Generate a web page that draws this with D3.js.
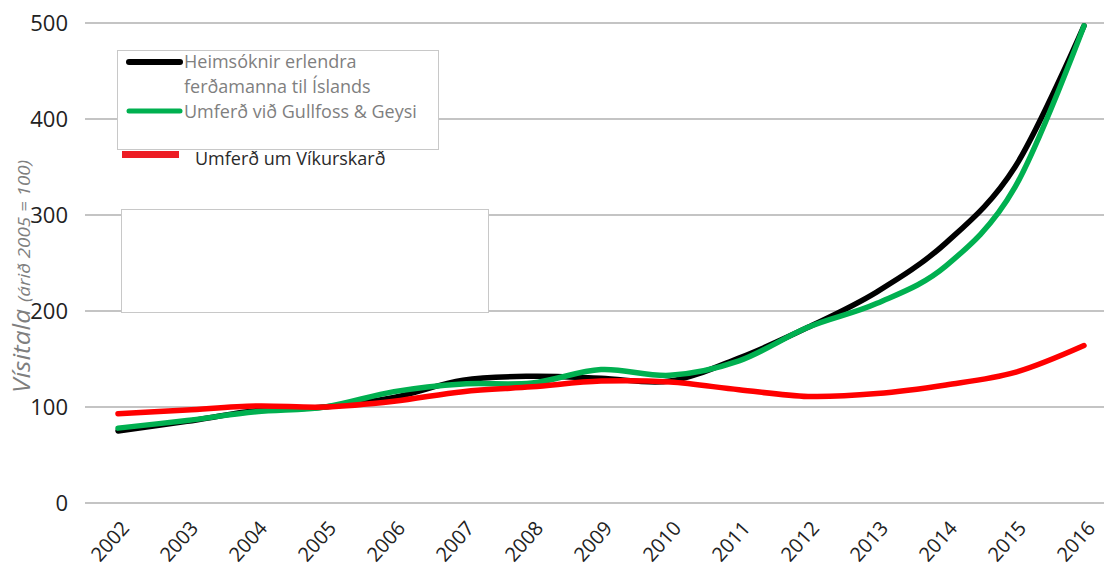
<!DOCTYPE html>
<html>
<head>
<meta charset="utf-8">
<script src="https://cdn.jsdelivr.net/npm/d3@7"></script>
<style>
  body { margin: 0; background: #fff; }
  svg { display: block; }
</style>
</head>
<body>
<div id="chart"></div>
<script>
const years = ["2002","2003","2004","2005","2006","2007","2008","2009","2010","2011","2012","2013","2014","2015","2016"];
const heimsoknir = [75, 85, 96, 100, 110, 128, 132, 130, 127, 151, 183, 220, 271, 350, 497];
const gullfoss = [78, 86, 95, 100, 116, 124, 125, 139, 133, 148, 183, 208, 247, 329, 497];
const vikurskard = [93, 97, 101, 100, 106, 116, 121, 127, 126, 118, 111, 114, 123, 136, 164];
const yTicks = [0, 100, 200, 300, 400, 500];

const width = 1104, height = 571;

const svg = d3.select("#chart").append("svg")
  .attr("width", width)
  .attr("height", height);

const x = d3.scalePoint().domain(years).range([118, 1084]);
const y = d3.scaleLinear().domain([0, 500]).range([503, 23]);

// gridlines
svg.append("g")
  .selectAll("line")
  .data(yTicks)
  .enter()
  .append("line")
  .attr("x1", 85).attr("x2", width)
  .attr("y1", d => y(d)).attr("y2", d => y(d))
  .style("stroke", "#c4c4c4")
  .style("stroke-width", 2);

// y axis labels
const yAxis = svg.append("g")
  .attr("transform", "translate(68,0)")
  .call(d3.axisLeft(y).tickValues(yTicks).tickSize(0).tickPadding(0));
yAxis.select(".domain").remove();
yAxis.selectAll("text")
  .style("font-family", "'Open Sans', sans-serif")
  .style("font-size", "22px")
  .style("fill", "#222");

// y axis title, two parts rotated
const yTitle = svg.append("g")
  .attr("transform", "translate(30,0) rotate(-90)")
  .style("font-family", "'Open Sans', sans-serif")
  .style("font-style", "italic")
  .style("fill", "#7f7f7f");
yTitle.append("text")
  .attr("x", -393).attr("y", 0)
  .attr("textLength", 84).attr("lengthAdjust", "spacingAndGlyphs")
  .style("font-size", "23px")
  .text("Vísitala");
yTitle.append("text")
  .attr("x", -302).attr("y", 0)
  .attr("textLength", 142).attr("lengthAdjust", "spacingAndGlyphs")
  .style("font-size", "17px")
  .text("(árið 2005 = 100)");

// x axis labels
const xAxis = svg.append("g")
  .attr("transform", "translate(0,520)")
  .call(d3.axisBottom(x).tickSize(0).tickPadding(0));
xAxis.select(".domain").remove();
xAxis.selectAll("text")
  .attr("text-anchor", "end")
  .attr("dy", 0)
  .attr("transform", "translate(12,9) rotate(-48)")
  .style("font-family", "'Open Sans', sans-serif")
  .style("font-size", "20px")
  .style("fill", "#222");

// lines
const line = d3.line()
  .x((d, i) => x(years[i]))
  .y(d => y(d))
  .curve(d3.curveCardinal.tension(0));

const series = [
  { values: heimsoknir, color: "#000000" },
  { values: gullfoss, color: "#00b050" },
  { values: vikurskard, color: "#ff0000" }
];

svg.append("g")
  .selectAll("path")
  .data(series)
  .enter()
  .append("path")
  .attr("d", d => line(d.values))
  .style("fill", "none")
  .style("stroke", d => d.color)
  .style("stroke-width", 5.5)
  .style("stroke-linecap", "round");

// legend box
const legend = svg.append("g");
legend.append("rect")
  .attr("x", 117.5).attr("y", 50.5)
  .attr("width", 321).attr("height", 99)
  .style("fill", "#fff")
  .style("stroke", "#c8c8c8");

legend.append("line")
  .attr("x1", 129).attr("x2", 180).attr("y1", 62).attr("y2", 62)
  .style("stroke", "#000").style("stroke-width", 6).style("stroke-linecap", "round");
legend.append("line")
  .attr("x1", 129).attr("x2", 180).attr("y1", 111).attr("y2", 111)
  .style("stroke", "#00b050").style("stroke-width", 5).style("stroke-linecap", "round");

const legText = legend.append("g")
  .style("font-family", "'Open Sans', sans-serif")
  .style("font-size", "18px")
  .style("fill", "#7f7f7f");
legText.append("text").attr("x", 184).attr("y", 68).text("Heimsóknir erlendra");
legText.append("text").attr("x", 184).attr("y", 93).text("ferðamanna til Íslands");
legText.append("text").attr("x", 184).attr("y", 118).text("Umferð við Gullfoss & Geysi");

// red entry sits below the box
legend.append("rect")
  .attr("x", 122).attr("y", 151)
  .attr("width", 57).attr("height", 7)
  .style("fill", "#ed1c24");
legend.append("text")
  .attr("x", 195).attr("y", 165)
  .style("font-family", "'Open Sans', sans-serif")
  .style("font-size", "18px")
  .style("fill", "#2a2a2a")
  .text("Umferð um Víkurskarð");

// empty box
svg.append("rect")
  .attr("x", 121.5).attr("y", 209.5)
  .attr("width", 367).attr("height", 103)
  .style("fill", "#fff")
  .style("stroke", "#c8c8c8");
</script>
</body>
</html>
